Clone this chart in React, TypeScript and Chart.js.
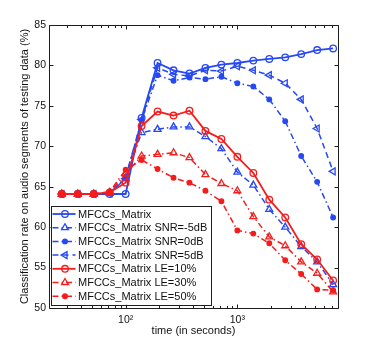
import React, { useEffect, useRef } from 'react';
import { Chart, registerables } from 'chart.js';
import { drawPoint } from 'chart.js/helpers';

Chart.register(...registerables);

// ---- data ----
const timeSeconds = [26.8, 37.3, 51.8, 72.0, 100, 138.9, 193.1, 268.3, 372.8, 517.9, 719.7, 1000, 1389.5, 1930.7, 2682.7, 3727.6, 5179.5, 7196.9];

const mfccsMatrix = [64.1, 64.1, 64.1, 64.1, 64.1, 73.5, 80.3, 79.4, 79.0, 79.7, 80.1, 80.3, 80.6, 80.8, 81.0, 81.4, 81.9, 82.1];
const snrMinus5 = [64.1, 64.1, 64.1, 64.2, 66.0, 71.7, 72.1, 72.4, 72.4, 71.2, 69.7, 66.8, 65.2, 62.2, 60.0, 57.6, 55.7, 52.9];
const snr0 = [64.1, 64.1, 64.1, 64.2, 66.2, 73.2, 78.8, 78.1, 78.5, 78.3, 78.6, 77.8, 77.4, 75.8, 73.1, 68.8, 65.6, 61.2];
const snr5 = [64.1, 64.1, 64.1, 64.2, 66.0, 73.3, 79.7, 78.9, 78.7, 79.4, 79.3, 79.9, 79.4, 78.8, 77.8, 75.8, 72.2, 66.9];
const le10 = [64.1, 64.1, 64.1, 64.3, 65.5, 72.5, 74.3, 73.8, 74.4, 71.9, 70.9, 68.7, 66.7, 63.4, 61.2, 57.9, 56.0, 53.4];
const le30 = [64.1, 64.1, 64.1, 64.3, 66.6, 68.8, 69.0, 69.2, 68.6, 66.5, 65.4, 64.5, 61.3, 58.8, 57.7, 55.7, 54.3, 52.0];
const le50 = [64.1, 64.1, 64.1, 64.4, 67.1, 68.3, 67.2, 66.1, 65.5, 64.5, 63.2, 59.6, 59.2, 58.0, 55.9, 54.2, 52.3, 52.2];

const seriesLabels = [
  'MFCCs_Matrix',
  'MFCCs_Matrix SNR=-5dB',
  'MFCCs_Matrix SNR=0dB',
  'MFCCs_Matrix SNR=5dB',
  'MFCCs_Matrix LE=10%',
  'MFCCs_Matrix LE=30%',
  'MFCCs_Matrix LE=50%',
];

const yTicks = [50, 55, 60, 65, 70, 75, 80, 85];
const xMajorTicks = [100, 1000];
const xMajorLabels = ['10\u00B2', '10\u00B3'];
const xMinorTicks = [30, 40, 50, 60, 70, 80, 90, 200, 300, 400, 500, 600, 700, 800, 900, 2000, 3000, 4000, 5000, 6000, 7000];

const xTitle = 'time (in seconds)';
const yTitle = 'Classification rate on audio segments of testing data (%)';

// ---- styles ----
const BLUE = 'rgb(38, 72, 245)';
const RED = 'rgb(245, 28, 28)';
const FONT = '"Liberation Sans", Arial, Helvetica, sans-serif';
const DASH_DOT = [6, 3, 1.5, 3];
const DASHED = [6, 4];

type Style = { color: string; dash: number[]; pointStyle: string; rotation: number; radius: number; filled: boolean; width: number };
const styles: Style[] = [
  { color: BLUE, dash: [], pointStyle: 'circle', rotation: 0, radius: 3.3, filled: false, width: 1.8 },
  { color: BLUE, dash: DASH_DOT, pointStyle: 'triangle', rotation: 0, radius: 4, filled: false, width: 1.5 },
  { color: BLUE, dash: DASH_DOT, pointStyle: 'circle', rotation: 0, radius: 2.3, filled: true, width: 1.5 },
  { color: BLUE, dash: DASHED, pointStyle: 'triangle', rotation: -90, radius: 4, filled: false, width: 1.5 },
  { color: RED, dash: [], pointStyle: 'circle', rotation: 0, radius: 3.3, filled: false, width: 1.8 },
  { color: RED, dash: DASH_DOT, pointStyle: 'triangle', rotation: 0, radius: 4, filled: false, width: 1.5 },
  { color: RED, dash: DASH_DOT, pointStyle: 'circle', rotation: 0, radius: 2.3, filled: true, width: 1.5 },
];
const seriesValues = [mfccsMatrix, snrMinus5, snr0, snr5, le10, le30, le50];

const framePlugin = {
  id: 'matlabFrame',
  afterDatasetsDraw(chart: any) {
    const { ctx, chartArea: a, scales } = chart;
    const xs = scales.x;
    const ys = scales.y;
    const L = a.left + 0.5;
    const R = a.right + 0.5;
    const T = a.top + 0.5;
    const B = a.bottom + 0.5;
    ctx.save();
    ctx.strokeStyle = '#1e1e1e';
    ctx.lineWidth = 1;
    ctx.setLineDash([]);
    ctx.beginPath();
    ctx.rect(L, T, R - L, B - T);
    ctx.stroke();
    ctx.beginPath();
    for (const v of yTicks) {
      const py = Math.round(ys.getPixelForValue(v)) + 0.5;
      ctx.moveTo(L, py); ctx.lineTo(L + 4, py);
      ctx.moveTo(R, py); ctx.lineTo(R - 4, py);
    }
    for (const v of xMajorTicks) {
      const px = Math.round(xs.getPixelForValue(v)) + 0.5;
      ctx.moveTo(px, B); ctx.lineTo(px, B - 4);
      ctx.moveTo(px, T); ctx.lineTo(px, T + 4);
    }
    for (const v of xMinorTicks) {
      const px = Math.round(xs.getPixelForValue(v)) + 0.5;
      ctx.moveTo(px, B); ctx.lineTo(px, B - 2.5);
      ctx.moveTo(px, T); ctx.lineTo(px, T + 2.5);
    }
    ctx.stroke();
    ctx.restore();
  },
};

const legendPlugin = {
  id: 'matlabLegend',
  afterDraw(chart: any) {
    const { ctx, chartArea: a } = chart;
    const boxL = a.left + 1.5;
    const boxR = a.left + 161.5;
    const boxB = a.bottom - 3.5;
    const boxT = boxB - 98.5;
    ctx.save();
    ctx.fillStyle = '#ffffff';
    ctx.fillRect(boxL, boxT, boxR - boxL, boxB - boxT);
    ctx.strokeStyle = '#1e1e1e';
    ctx.lineWidth = 1;
    ctx.setLineDash([]);
    ctx.strokeRect(Math.round(boxL) + 0.5, Math.round(boxT) + 0.5, Math.round(boxR - boxL), Math.round(boxB - boxT));
    chart.data.datasets.forEach((ds: any, i: number) => {
      const st = styles[i];
      const cy = boxT + 8 + i * 13.7;
      ctx.strokeStyle = st.color;
      ctx.lineWidth = st.width;
      ctx.setLineDash(st.dash);
      ctx.beginPath();
      ctx.moveTo(boxL + 2, cy);
      ctx.lineTo(boxL + 25, cy);
      ctx.stroke();
      ctx.setLineDash([]);
      ctx.fillStyle = st.filled ? st.color : 'rgba(0,0,0,0)';
      ctx.strokeStyle = st.color;
      ctx.lineWidth = 1.3;
      drawPoint(ctx, { pointStyle: st.pointStyle as any, rotation: st.rotation, radius: st.radius, borderWidth: 1.3 }, boxL + 14.5, cy);
      ctx.fillStyle = '#111111';
      ctx.font = `11px ${FONT}`;
      ctx.textBaseline = 'middle';
      ctx.textAlign = 'left';
      ctx.fillText(ds.label, boxL + 27.5, cy + 0.5);
    });
    ctx.restore();
  },
};

export default function App() {
  const canvasRef = useRef<HTMLCanvasElement | null>(null);

  useEffect(() => {
    if (!canvasRef.current) return;
    const datasets = seriesLabels.map((label, i) => {
      const st = styles[i];
      return {
        label,
        data: timeSeconds.map((t, k) => ({ x: t, y: seriesValues[i][k] })),
        borderColor: st.color,
        backgroundColor: st.color,
        borderWidth: st.width,
        borderDash: st.dash,
        pointStyle: st.pointStyle,
        rotation: st.rotation,
        pointRadius: st.radius,
        pointBorderWidth: 1.3,
        pointBorderColor: st.color,
        pointBackgroundColor: st.filled ? st.color : 'rgba(0,0,0,0)',
        fill: false,
        tension: 0,
        order: seriesLabels.length - i,
      };
    });

    const chart = new Chart(canvasRef.current, {
      type: 'line',
      data: { datasets },
      options: {
        animation: false,
        responsive: false,
        devicePixelRatio: 1,
        layout: { padding: { left: 0, top: 25, right: 36, bottom: 0 } },
        plugins: { legend: { display: false }, tooltip: { enabled: false }, title: { display: false } },
        scales: {
          x: {
            type: 'logarithmic',
            min: 20.6,
            max: 7960,
            afterBuildTicks: (s: any) => { s.ticks = xMajorTicks.map((v) => ({ value: v })); },
            afterFit: (s: any) => { s.height = 39; },
            grid: { display: false, drawTicks: false },
            border: { display: false },
            ticks: {
              autoSkip: false,
              maxRotation: 0,
              padding: 6,
              color: '#111',
              font: { family: FONT, size: 10.5 },
              callback: (v: any) => {
                const idx = xMajorTicks.indexOf(Number(v));
                return idx >= 0 ? xMajorLabels[idx] : '';
              },
            },
            title: { display: true, text: xTitle, color: '#111', font: { family: FONT, size: 11 }, padding: { top: 0, bottom: 9.4 } },
          },
          y: {
            type: 'linear',
            min: 50,
            max: 85,
            afterBuildTicks: (s: any) => { s.ticks = yTicks.map((v) => ({ value: v })); },
            afterFit: (s: any) => { s.width = 49; },
            grid: { display: false, drawTicks: false },
            border: { display: false },
            ticks: { padding: 3, color: '#111', font: { family: FONT, size: 10.5 } },
            title: { display: true, text: yTitle, color: '#111', font: { family: FONT, size: 11 }, padding: { top: 18, bottom: 0 } },
          },
        },
      },
      plugins: [framePlugin, legendPlugin],
    } as any);

    return () => chart.destroy();
  }, []);

  return (
    <div style={{ position: 'fixed', left: 0, top: 0, width: 374, height: 347, background: '#fff' }}>
      <canvas ref={canvasRef} width={374} height={347} style={{ display: 'block', width: 374, height: 347 }} />
    </div>
  );
}
